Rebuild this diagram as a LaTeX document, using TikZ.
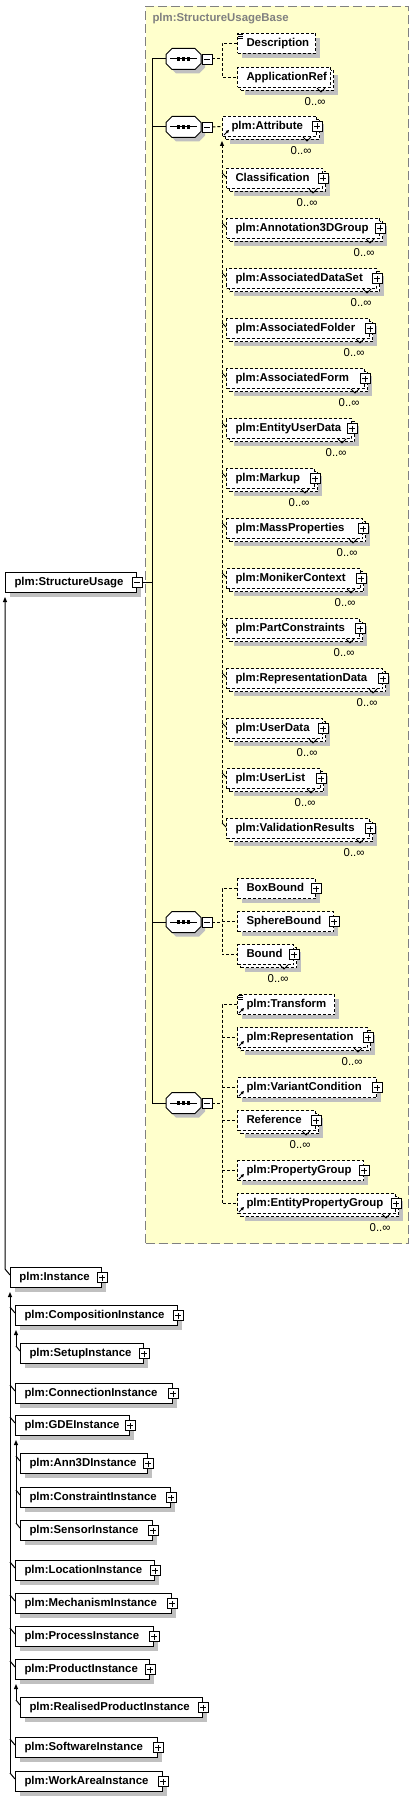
\documentclass[tikz,border=0pt]{standalone}
\usepackage{fontspec}
\setmainfont{Liberation Sans}
\usetikzlibrary{arrows.meta,positioning,shadows,calc}
\definecolor{basefill}{RGB}{255,255,204}
\definecolor{baseline}{RGB}{128,128,128}
\definecolor{shadowgrey}{RGB}{192,192,192}

\begin{document}
\begin{tikzpicture}[x=1pt,y=-1pt,line width=1pt,
    every node/.style={font=\fontsize{11.4}{13}\selectfont\bfseries,inner sep=0pt},
    shadowed/.style={general shadow={shadow xshift=4.5pt,shadow yshift=-4.5pt,fill=shadowgrey}},
    elem/.style={draw,fill=white,anchor=north west,minimum height=20pt,inner xsep=9pt,text width=#1pt,
      text height=8.5pt,text depth=2.5pt,align=left,execute at begin node={\hyphenpenalty=10000}},
    opt/.style={dash pattern=on 3pt off 2pt},
    link/.style={dash pattern=on 3pt off 2pt},
    card/.style={font=\fontsize{11.4}{13}\selectfont,anchor=north east},
    derive/.style={-{Triangle[length=5pt,width=4pt]}},
    refmark/.style={line width=.8pt,-{Triangle[length=3pt,width=3pt]}},
    plus/.style={draw,solid,fill=white,minimum size=10pt,line width=.8pt,
      path picture={\draw[solid,line width=.8pt] ([xshift=2pt]path picture bounding box.west) -- ([xshift=-2pt]path picture bounding box.east)
        ([yshift=2pt]path picture bounding box.south) -- ([yshift=-2pt]path picture bounding box.north);}},
    minus/.style={draw,solid,fill=white,minimum size=10pt,line width=.8pt,
      path picture={\draw[solid,line width=.8pt] ([xshift=2pt]path picture bounding box.west) -- ([xshift=-2pt]path picture bounding box.east);}},
    seq/.style={minimum width=35pt,minimum height=21pt,
      path picture={\draw[black] ([xshift=4pt]path picture bounding box.west) -- ([xshift=-4pt]path picture bounding box.east);
        \foreach \d in {-5,0,5} \fill[black] ([xshift=\d pt]path picture bounding box.center) +(-1.6,-1.6) rectangle +(1.6,1.6);}}
  ]
  \useasboundingbox (0,0) rectangle (414,1803);
  \coordinate (trunk) at (152,0);
  \coordinate (branch) at (222,0);

  \node[draw=baseline,fill=basefill,dash pattern=on 9pt off 4pt,anchor=north west,minimum width=263pt,minimum height=1237pt] (base) at (145,6) {};
  \node[text=baseline,anchor=west] (base-t) at (152,19) {plm:StructureUsageBase};

  \node[elem=113,shadowed] (su) at (5,572) {plm:StructureUsage};
  \node[minus] (su-m) at (su.east) {};

  \foreach \g/\y in {1/59,2/127,3/922,4/1103}{
    \foreach \dx/\c/\dr in {4/shadowgrey/none,0/white/black}
      \filldraw[fill=\c,draw=\dr,shift={(183.5+\dx,\y+\dx)}] (-11.5,-10.5) -- (11.5,-10.5) -- (17.5,-4.5) -- (17.5,4.5)
        -- (11.5,10.5) -- (-11.5,10.5) -- (-17.5,4.5) -- (-17.5,-4.5) -- cycle;
    \node[seq] (seq\g) at (183.5,\y) {};
    \node[minus,anchor=west] (seq\g-m) at (seq\g.east) {};
  }
  \draw (su-m.east) -- (su-m.east -| trunk);
  \draw (seq1.west) -- (seq1.west -| trunk) -- (seq4.west -| trunk) -- (seq4.west);
  \foreach \g in {2,3} \draw (seq\g.west) -- (seq\g.west -| trunk);

  \node[elem=60,opt,shadowed] (desc) at (237,33) {Description};
  \node[elem=75,opt,shadowed] (appref-b) at (240,70) {};
  \node[elem=75,opt] (appref) at (237,67) {ApplicationRef};
  \draw[link] (seq1-m.east) -- (seq1-m.east -| branch);
  \draw[link] (desc.west) -| (branch |- appref.west) -- (appref.west);

  \node[elem=76,opt,shadowed] (attr-b) at (225,119) {};
  \node[elem=76,opt] (attr) at (222,116) {plm:Attribute};
  \node[plus] (attr-p) at (attr.east) {};
  \draw[link] (seq2-m.east) -- (attr.west);
  \foreach \n/\t/\y/\r in {cls/Classification/168/322,ann3d/plm:Annotation3DGroup/218/379,
      adset/plm:AssociatedDataSet/268/376,afold/plm:AssociatedFolder/318/369,aform/plm:AssociatedForm/368/364,
      eud/plm:EntityUserData/418/351,mark/plm:Markup/468/314,mass/plm:MassProperties/518/362,
      mon/plm:MonikerContext/568/360,partc/plm:PartConstraints/618/359,repd/plm:RepresentationData/668/382,
      udata/plm:UserData/718/322,ulist/plm:UserList/768/320,valres/plm:ValidationResults/818/369}{
    \pgfmathsetmacro\w{\r-226-18}
    \node[elem=\w,opt,shadowed] (\n-b) at (229,\y+3) {};
    \node[elem=\w,opt] (\n) at (226,\y) {\t};
    \node[plus] (\n-p) at (\n.east) {};
    \node[card] (\n-c) at ($(\n.south east)+(-5,9)$) {0..∞};
    \draw[line width=.8pt] ($(\n.south east)+(-14,0)$) -- ++(4,4) -- ++(4,-4);
    \draw ($(\n.north west)+(0,9)$) -- ++(-4,-4);
  }
  \draw[link,derive] ($(valres.north west)+(-4,5)$) -- ($(attr.south west)+(0,4)$);

  \node[elem=60,opt,shadowed] (boxb) at (237,878) {BoxBound};
  \node[elem=78,opt,shadowed] (sphb) at (237,911) {SphereBound};
  \node[elem=38,opt,shadowed] (bound-b) at (240,947) {};
  \node[elem=38,opt] (bound) at (237,944) {Bound};
  \foreach \n in {boxb,sphb,bound} \node[plus] (\n-p) at (\n.east) {};
  \draw[link] (seq3-m.east) -- (seq3-m.east -| branch);
  \draw[link] (boxb.west) -| (branch |- bound.west) -- (bound.west);
  \draw[link] (branch |- sphb.west) -- (sphb.west);

  \node[elem=79,opt,shadowed] (transf) at (237,994) {plm:Transform};
  \node[elem=112,opt,shadowed] (repr-b) at (240,1030) {};
  \node[elem=112,opt] (repr) at (237,1027) {plm:Representation};
  \node[elem=121,opt,shadowed] (varc) at (237,1077) {plm:VariantCondition};
  \node[elem=60,opt,shadowed] (refer-b) at (240,1113) {};
  \node[elem=60,opt] (refer) at (237,1110) {Reference};
  \node[elem=108,opt,shadowed] (propg) at (237,1160) {plm:PropertyGroup};
  \node[elem=140,opt,shadowed] (eprop-b) at (240,1196) {};
  \node[elem=140,opt] (eprop) at (237,1193) {plm:EntityPropertyGroup};
  \foreach \n in {repr,varc,refer,propg,eprop} \node[plus] (\n-p) at (\n.east) {};
  \draw[link] (seq4-m.east) -- (seq4-m.east -| branch);
  \draw[link] (transf.west) -| (branch |- eprop.west) -- (eprop.west);
  \foreach \n in {repr,varc,refer,propg} \draw[link] (branch |- \n.west) -- (\n.west);

  \foreach \n in {appref,attr,bound,repr,refer,eprop}{
    \node[card] (\n-c) at ($(\n.south east)+(-5,9)$) {0..∞};
    \draw[line width=.8pt] ($(\n.south east)+(-14,0)$) -- ++(4,4) -- ++(4,-4);
  }
  \foreach \n in {desc,transf} \foreach \d in {1,3,5} \draw[line width=.7pt] ($(\n.north west)+(1,\d)$) -- ++(5,0);
  \foreach \n in {attr,transf,repr,varc,propg,eprop} \draw[refmark] ($(\n.south west)+(2,-2)$) -- ++(5,-5);

  \foreach \n/\t/\x/\y/\r in {inst/plm:Instance/10/1267/101,comp/plm:CompositionInstance/15/1305/177,
      setup/plm:SetupInstance/20/1343/143,conn/plm:ConnectionInstance/15/1383/172,gde/plm:GDEInstance/15/1415/129,
      ann/plm:Ann3DInstance/20/1453/147,cons/plm:ConstraintInstance/20/1487/170,sens/plm:SensorInstance/20/1520/152,
      loc/plm:LocationInstance/15/1560/154,mech/plm:MechanismInstance/15/1593/171,proc/plm:ProcessInstance/15/1626/153,
      prod/plm:ProductInstance/15/1659/149,real/plm:RealisedProductInstance/20/1697/202,
      soft/plm:SoftwareInstance/15/1737/157,work/plm:WorkAreaInstance/15/1771/162}{
    \pgfmathsetmacro\w{\r-\x-18}
    \node[elem=\w,shadowed] (\n) at (\x,\y) {\t};
    \node[plus] (\n-p) at (\n.east) {};
  }
  \draw[derive] ($(inst.north west)+(0,8)$) -- ++(-5,-6) -- ($(su.south west)+(0,4)$);
  \foreach \n in {comp,conn,gde,loc,mech,proc,prod,soft,work} \draw ($(\n.north west)+(0,8)$) -- ++(-5,-6);
  \draw[derive] ($(work.north west)+(-5,2)$) -- ($(inst.south west)+(0,4)$);
  \foreach \n in {setup,ann,cons,sens,real} \draw ($(\n.north west)+(0,8)$) -- ++(-4,-5);
  \draw[derive] ($(setup.north west)+(-4,3)$) -- ($(comp.south west)+(1,4)$);
  \draw[derive] ($(sens.north west)+(-4,3)$) -- ($(gde.south west)+(1,4)$);
  \draw[derive] ($(real.north west)+(-4,3)$) -- ($(prod.south west)+(1,4)$);
\end{tikzpicture}
\end{document}
